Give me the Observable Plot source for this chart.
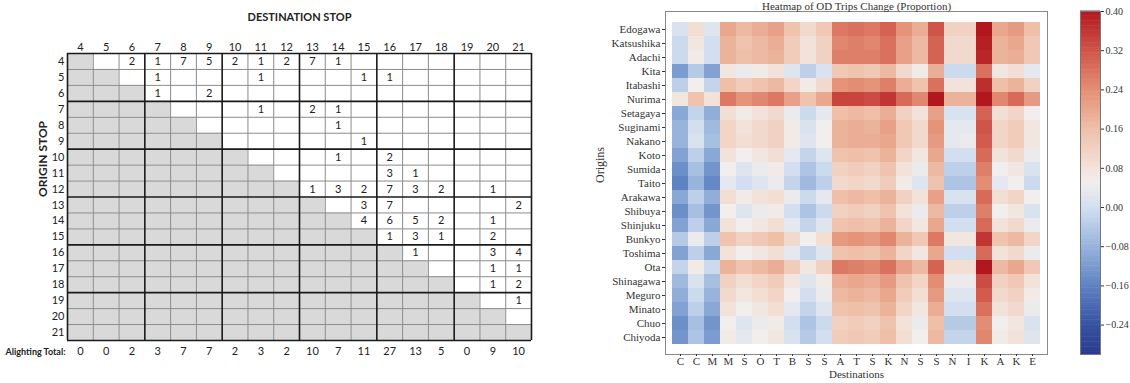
<!DOCTYPE html>
<html><head><meta charset="utf-8">
<script src="https://cdn.jsdelivr.net/npm/d3@7"></script>
<script src="https://cdn.jsdelivr.net/npm/@observablehq/plot@0.6"></script>
<style>
body{margin:0;background:#fff;width:1130px;height:383px;overflow:hidden;position:relative}
.p{position:absolute;top:0}
</style></head><body>
<div id="left" class="p" style="left:0px"></div>
<div id="heat" class="p" style="left:580px"></div>
<div id="cbar" class="p" style="left:1060px"></div>
<script>
// ---------- Left panel: OD matrix ----------
const stops = [4,5,6,7,8,9,10,11,12,13,14,15,16,17,18,19,20,21];
const tripOrigin = [4,4,4,4,4,4,4,4,4, 5,5,5,5, 6,6, 7,7,7, 8, 9, 10,10, 11,11, 12,12,12,12,12,12,12, 13,13,13, 14,14,14,14,14, 15,15,15,15, 16,16,16, 17,17, 18,18, 19];
const tripDest   = [6,7,8,9,10,11,12,13,14, 7,11,15,16, 7,9, 11,13,14, 14, 15, 14,16, 16,17, 13,14,15,16,17,18,20, 15,16,21, 15,16,17,18,20, 16,17,18,20, 17,20,21, 20,21, 20,21, 21];
const tripCount  = [2,1,7,5,2,1,2,7,1, 1,1,1,1, 1,2, 1,2,1, 1, 1, 1,2, 3,1, 1,3,2,7,3,2,1, 3,7,2, 4,6,5,2,1, 1,3,1,2, 1,3,4, 1,1, 1,2, 1];
const alightingTotal = [0,0,2,3,7,7,2,3,2,10,7,11,27,13,5,0,9,10];

// ---------- Right panel: heatmap ----------
const originNames = ["Edogawa","Katsushika","Adachi","Kita","Itabashi","Nurima","Setagaya","Suginami","Nakano","Koto","Sumida","Taito","Arakawa","Shibuya","Shinjuku","Bunkyo","Toshima","Ota","Shinagawa","Meguro","Minato","Chuo","Chiyoda"];
const destLabels = ["C","C","M","M","S","O","T","B","S","S","A","T","S","K","N","S","S","N","I","K","A","K","E"];
const odChange = [
 [0.01,0.09,0.02,0.20,0.17,0.19,0.21,0.15,0.10,0.14,0.27,0.28,0.27,0.30,0.23,0.19,0.32,0.12,0.12,0.41,0.20,0.22,0.16],
 [-0.01,0.07,0.00,0.18,0.15,0.17,0.19,0.13,0.08,0.12,0.25,0.26,0.25,0.28,0.21,0.17,0.30,0.10,0.10,0.39,0.18,0.20,0.14],
 [-0.01,0.06,0.00,0.18,0.16,0.17,0.18,0.13,0.08,0.12,0.26,0.26,0.26,0.28,0.21,0.17,0.30,0.10,0.10,0.38,0.18,0.19,0.14],
 [-0.12,-0.04,-0.11,0.07,0.04,0.06,0.08,0.02,-0.03,0.01,0.14,0.15,0.14,0.17,0.10,0.06,0.19,-0.01,-0.01,0.28,0.07,0.09,0.03],
 [-0.03,0.05,-0.02,0.16,0.13,0.15,0.17,0.11,0.06,0.10,0.23,0.24,0.23,0.26,0.19,0.15,0.28,0.08,0.08,0.37,0.16,0.18,0.12],
 [0.07,0.15,0.08,0.27,0.23,0.25,0.27,0.21,0.15,0.20,0.34,0.34,0.33,0.36,0.29,0.25,0.40,0.18,0.18,0.42,0.25,0.29,0.22],
 [-0.10,-0.02,-0.09,0.09,0.06,0.08,0.10,0.04,-0.01,0.03,0.16,0.17,0.16,0.19,0.12,0.08,0.21,0.01,0.01,0.30,0.09,0.11,0.05],
 [-0.08,0.00,-0.07,0.11,0.08,0.10,0.12,0.06,0.01,0.05,0.18,0.19,0.18,0.21,0.14,0.10,0.23,0.03,0.03,0.32,0.11,0.13,0.07],
 [-0.08,0.01,-0.06,0.11,0.09,0.10,0.12,0.06,0.02,0.05,0.18,0.19,0.19,0.20,0.14,0.10,0.22,0.03,0.04,0.31,0.11,0.13,0.07],
 [-0.11,-0.03,-0.10,0.08,0.05,0.07,0.09,0.03,-0.02,0.02,0.15,0.16,0.15,0.18,0.11,0.07,0.20,0.00,0.00,0.29,0.08,0.10,0.04],
 [-0.14,-0.06,-0.13,0.05,0.02,0.04,0.06,0.00,-0.05,-0.01,0.12,0.13,0.12,0.15,0.08,0.04,0.17,-0.03,-0.03,0.26,0.05,0.07,0.01],
 [-0.16,-0.08,-0.15,0.03,0.00,0.02,0.04,-0.02,-0.07,-0.03,0.10,0.11,0.10,0.13,0.06,0.02,0.15,-0.05,-0.05,0.24,0.03,0.05,-0.01],
 [-0.10,-0.03,-0.09,0.09,0.06,0.08,0.09,0.04,-0.01,0.03,0.16,0.17,0.16,0.18,0.12,0.08,0.21,0.01,0.01,0.29,0.09,0.11,0.05],
 [-0.14,-0.06,-0.13,0.05,0.02,0.04,0.06,0.00,-0.05,-0.01,0.12,0.13,0.12,0.15,0.08,0.04,0.17,-0.03,-0.03,0.26,0.05,0.07,0.01],
 [-0.11,-0.03,-0.10,0.08,0.05,0.07,0.09,0.03,-0.02,0.02,0.15,0.16,0.15,0.18,0.11,0.07,0.20,0.00,0.00,0.29,0.08,0.10,0.04],
 [-0.04,0.04,-0.03,0.15,0.12,0.14,0.16,0.10,0.05,0.09,0.22,0.23,0.22,0.25,0.18,0.14,0.27,0.07,0.07,0.36,0.15,0.17,0.11],
 [-0.11,-0.03,-0.10,0.08,0.05,0.07,0.09,0.03,-0.02,0.02,0.15,0.16,0.15,0.18,0.11,0.07,0.20,0.00,0.00,0.29,0.08,0.10,0.04],
 [-0.02,0.06,-0.01,0.18,0.15,0.17,0.19,0.13,0.07,0.12,0.27,0.26,0.25,0.28,0.21,0.17,0.30,0.09,0.09,0.40,0.17,0.20,0.14],
 [-0.07,0.01,-0.06,0.12,0.09,0.11,0.13,0.07,0.02,0.06,0.19,0.20,0.19,0.22,0.15,0.11,0.24,0.04,0.04,0.33,0.12,0.14,0.08],
 [-0.09,-0.01,-0.08,0.10,0.07,0.09,0.11,0.05,0.00,0.04,0.17,0.18,0.17,0.20,0.13,0.09,0.22,0.02,0.02,0.31,0.10,0.12,0.06],
 [-0.11,-0.03,-0.10,0.08,0.05,0.07,0.09,0.03,-0.02,0.02,0.15,0.16,0.15,0.18,0.11,0.07,0.19,0.00,0.00,0.28,0.08,0.10,0.04],
 [-0.14,-0.06,-0.13,0.05,0.02,0.04,0.06,0.00,-0.05,-0.01,0.12,0.13,0.12,0.15,0.08,0.04,0.16,-0.04,-0.04,0.24,0.05,0.07,0.01],
 [-0.13,-0.05,-0.12,0.06,0.03,0.05,0.07,0.01,-0.04,0.00,0.13,0.14,0.13,0.16,0.09,0.05,0.17,-0.02,-0.02,0.25,0.06,0.08,0.02]
];
const colorbarTicks = [-0.24,-0.16,-0.08,0.00,0.08,0.16,0.24,0.32,0.40];
const colorStops = [-0.30,-0.24,-0.16,-0.08,0.00,0.05,0.08,0.16,0.24,0.32,0.40];
const colorRange = ["#2a3b8f","#3752a3","#5f82c3","#98b4dc","#d3dff0","#f1eeed","#f3e2da","#efbfa8","#e38e74","#cf5449","#b2171f"];

// ===== Left plot =====
const cells = [];
for (const o of stops) for (const d of stops) cells.push({o, d, grey: d <= o});
const trips = tripOrigin.map((o,i) => ({o, d: tripDest[i], n: tripCount[i]}));
const bounds = [3.5, ...stops.map(s => s + 0.5)];
const thick = bounds.filter((b,i) => i % 3 === 0);
const thin = bounds.filter((b,i) => i % 3 !== 0);
const sans = "Lato, 'DejaVu Sans', sans-serif";

const leftPlot = Plot.plot({
  width: 560, height: 383,
  marginLeft: 67, marginRight: 29, marginTop: 53, marginBottom: 43,
  x: {domain: [3.5, 21.5], axis: null},
  y: {domain: [3.5, 21.5], reverse: true, axis: null},
  style: {fontFamily: sans, fontSize: "11px", color: "#222", background: "#fff"},
  marks: [
    Plot.rect(cells, {x1: d => d.d - 0.5, x2: d => d.d + 0.5, y1: d => d.o - 0.5, y2: d => d.o + 0.5,
      fill: d => d.grey ? "#d9d9d9" : "#ffffff"}),
    Plot.ruleX(thin, {stroke: "#8c8c8c", strokeWidth: 1}),
    Plot.ruleY(thin, {stroke: "#8c8c8c", strokeWidth: 1}),
    Plot.ruleX(thick, {stroke: "#1a1a1a", strokeWidth: 1.6}),
    Plot.ruleY(thick, {stroke: "#1a1a1a", strokeWidth: 1.6}),
    Plot.text(trips, {x: "d", y: "o", text: "n", fontSize: 11, fill: "#222"}),
    Plot.axisX({anchor: "top", ticks: stops, tickFormat: d => d, tickSize: 0, tickPadding: 3, label: null, fontSize: 11}),
    Plot.axisY({anchor: "left", ticks: stops, tickFormat: d => d, tickSize: 0, tickPadding: 3, label: null, fontSize: 11}),
    Plot.text(["DESTINATION STOP"], {frameAnchor: "top", dy: -40, fontWeight: "bold", fontSize: 11}),
    Plot.text(["ORIGIN STOP"], {frameAnchor: "left", dx: -24, rotate: -90, fontWeight: "bold", fontSize: 12}),
    Plot.text(["Alighting Total:"], {frameAnchor: "bottom-left", dx: -2, dy: 14, textAnchor: "end", fontWeight: "bold", fontSize: 9}),
    Plot.text(stops, {x: d => d, text: (d, i) => alightingTotal[i], frameAnchor: "bottom", dy: 14, fontSize: 11})
  ]
});
document.getElementById("left").append(leftPlot);

// ===== Heatmap =====
const heatCells = [];
odChange.forEach((row, i) => row.forEach((v, j) => heatCells.push({i, j, v})));
const idx = originNames.map((_, i) => i);
const serif = "'Liberation Serif', 'DejaVu Serif', serif";
const colorScale = {type: "linear", domain: colorStops, range: colorRange, clamp: true};

const heat = Plot.plot({
  width: 480, height: 383,
  marginLeft: 85, marginRight: 13, marginTop: 11, marginBottom: 29,
  x: {domain: idx, padding: 0, axis: null},
  y: {domain: idx, padding: 0, axis: null},
  color: colorScale,
  style: {fontFamily: serif, fontSize: "11px", color: "#333", background: "transparent"},
  marks: [
    Plot.cell(heatCells, {x: "j", y: "i", fill: "v", inset: 0}),
    Plot.frame({stroke: "#888"}),
    Plot.axisY({anchor: "left", tickFormat: i => originNames[i], tickSize: 3, tickPadding: 2, label: null, fontSize: 11}),
    Plot.axisX({anchor: "bottom", tickFormat: i => destLabels[i], tickSize: 2, tickPadding: 1, label: null, fontSize: 11}),
    Plot.text(["Heatmap of OD Trips Change (Proportion)"], {frameAnchor: "top", dy: -2, lineAnchor: "bottom", fontSize: 11}),
    Plot.text(["Origins"], {frameAnchor: "left", dx: -65, rotate: -90, fontSize: 12}),
    Plot.text(["Destinations"], {frameAnchor: "bottom", dy: 23, fontSize: 11})
  ]
});
document.getElementById("heat").append(heat);

// ===== Colorbar =====
const step = 0.005;
const grad = d3.range(-0.30, 0.40 - 1e-9, step);
const cbar = Plot.plot({
  width: 70, height: 383,
  marginLeft: 20, marginRight: 30, marginTop: 11, marginBottom: 29,
  x: {domain: [0, 1], axis: null},
  y: {domain: [-0.30, 0.40], axis: null},
  color: colorScale,
  style: {fontFamily: serif, fontSize: "10px", color: "#333", background: "transparent"},
  marks: [
    Plot.rect(grad, {x1: 0, x2: 1, y1: d => d, y2: d => d + step + 0.001, fill: d => d + step / 2}),
    Plot.frame({stroke: "#777"}),
    Plot.axisY({anchor: "right", ticks: colorbarTicks, tickFormat: d3.format(".2f"), tickSize: 3, tickPadding: 2, label: null, fontSize: 10})
  ]
});
document.getElementById("cbar").append(cbar);
</script>
</body></html>
